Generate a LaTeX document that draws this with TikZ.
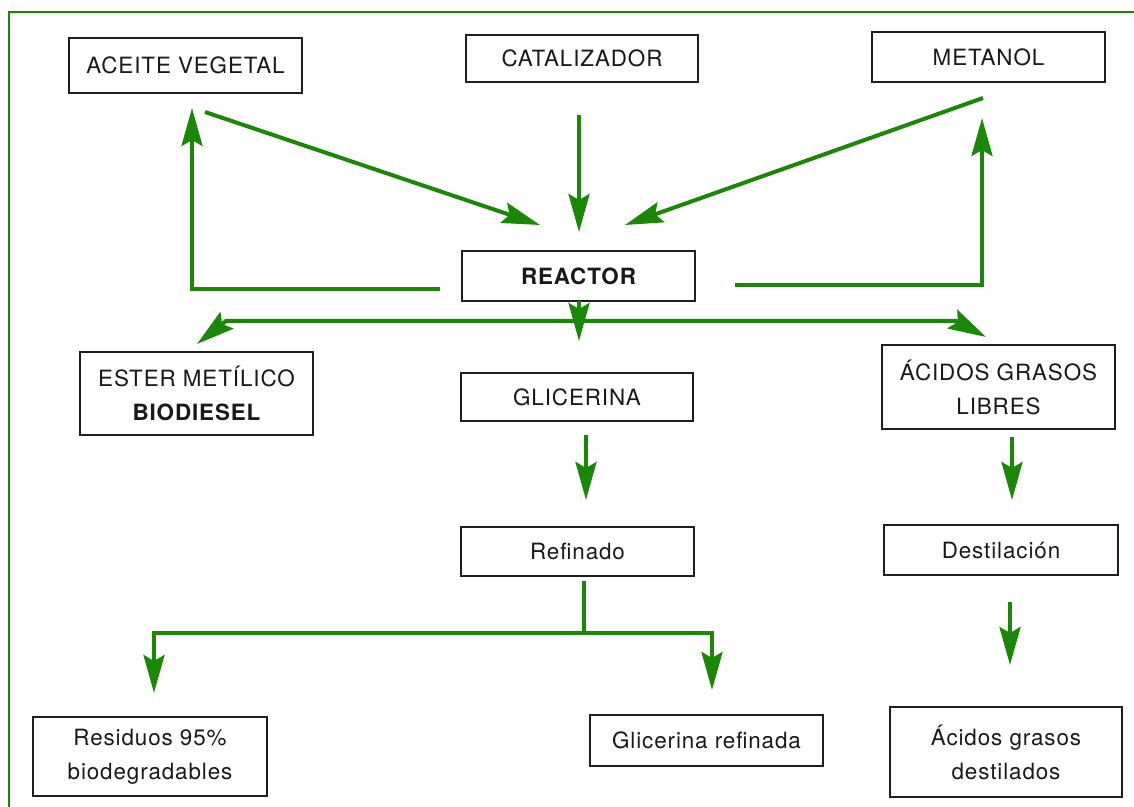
\documentclass[tikz,border=0pt]{standalone}
\usepackage{fontspec}
\setmainfont{TeX Gyre Heros}[LetterSpace=4]
\usetikzlibrary{arrows.meta}
\definecolor{flowgreen}{RGB}{26,136,6}
\definecolor{boxline}{RGB}{30,30,30}
\definecolor{txt}{RGB}{25,25,25}
\tikzset{
  box/.style={draw=boxline, line width=1.1pt, fill=white, inner sep=2pt, align=center,
    font=\fontsize{11.2}{17}\selectfont, text=txt},
  gl/.style={draw=flowgreen, line width=2pt},
  arr/.style={gl, -{Stealth[length=19pt,width=10.5pt,inset=3pt]}},
  arrb/.style={gl, {Stealth[length=19pt,width=10.5pt,inset=3pt]}-{Stealth[length=19pt,width=10.5pt,inset=3pt]}},
}
\begin{document}
\begin{tikzpicture}[x=0.5pt,y=-0.5pt]
\useasboundingbox (0,0) rectangle (1134,807);
% frame
\draw[flowgreen, line width=0.9pt] (9,807) -- (9,12) -- (1134,12);
% boxes
\node[box, minimum width=116.5pt, minimum height=27.5pt] (aceite) at (185.5,65.5) {ACEITE VEGETAL};
\node[box, minimum width=116pt, minimum height=23.5pt] (catal) at (582,58.5) {CATALIZADOR};
\node[box, minimum width=116.5pt, minimum height=25pt] (metanol) at (988.5,57) {METANOL};
\node[box, minimum width=116.5pt, minimum height=25pt] (reactor) at (578.5,276) {\bfseries REACTOR};
\node[box, minimum width=116.5pt, minimum height=41.5pt] (ester) at (196.5,393.5) {ESTER METÍLICO\\\bfseries BIODIESEL};
\node[box, minimum width=116pt, minimum height=24pt] (glic) at (577,397) {GLICERINA};
\node[box, minimum width=116.5pt, minimum height=42pt] (acidos) at (998.5,387) {ÁCIDOS GRASOS\\LIBRES};
\node[box, minimum width=116.5pt, minimum height=24.5pt] (refin) at (577.5,551.5) {Refinado};
\node[box, minimum width=117pt, minimum height=25pt] (destil) at (1001,550) {Destilación};
\node[box, minimum width=117pt, minimum height=39.5pt] (resid) at (150,756.5) {Residuos 95\%\\biodegradables};
\node[box, minimum width=116.5pt, minimum height=25.5pt] (glicref) at (706.5,740.5) {Glicerina refinada};
\node[box, minimum width=116pt, minimum height=45pt] (acdest) at (1006,752) {Ácidos grasos\\destilados};
% connector end points
\coordinate (a1) at (205,112);   \coordinate (a2) at (540,225);
\coordinate (c1) at (579,115);   \coordinate (c2) at (579,232);
\coordinate (m1) at (983,98);    \coordinate (m2) at (625,225);
\coordinate (l1) at (440,289);   \coordinate (l2) at (192,289);  \coordinate (l3) at (192,108);
\coordinate (r1) at (735,285);   \coordinate (r2) at (982,285);  \coordinate (r3) at (982,118);
\coordinate (hL) at (197,344);   \coordinate (h1) at (226,321);
\coordinate (h2) at (956,321);   \coordinate (hR) at (986,337);
\coordinate (d1) at (579,301);   \coordinate (d2) at (579,341);
\coordinate (g1) at (586,435);   \coordinate (g2) at (586,500);
\coordinate (f1) at (584,581);   \coordinate (f2) at (584,633);
\coordinate (fl1) at (154,633);  \coordinate (fl2) at (154,693);
\coordinate (fr1) at (712,633);  \coordinate (fr2) at (712,690);
\coordinate (s1) at (1012,437);  \coordinate (s2) at (1012,500);
\coordinate (t1) at (1010,602);  \coordinate (t2) at (1010,665);
% connectors
\draw[arr] (a1) -- (a2);
\draw[arr] (c1) -- (c2);
\draw[arr] (m1) -- (m2);
\draw[arr] (l1) -- (l2) -- (l3);
\draw[arr] (r1) -- (r2) -- (r3);
\draw[arrb] (hL) -- (h1) -- (h2) -- (hR);
\draw[arr] (d1) -- (d2);
\draw[arr] (g1) -- (g2);
\draw[gl] (f1) -- (f2);
\draw[arr] (fr1) -- (fl1) -- (fl2);
\draw[arr] (fl1) -- (fr1) -- (fr2);
\draw[arr] (s1) -- (s2);
\draw[arr] (t1) -- (t2);
\end{tikzpicture}
\end{document}
